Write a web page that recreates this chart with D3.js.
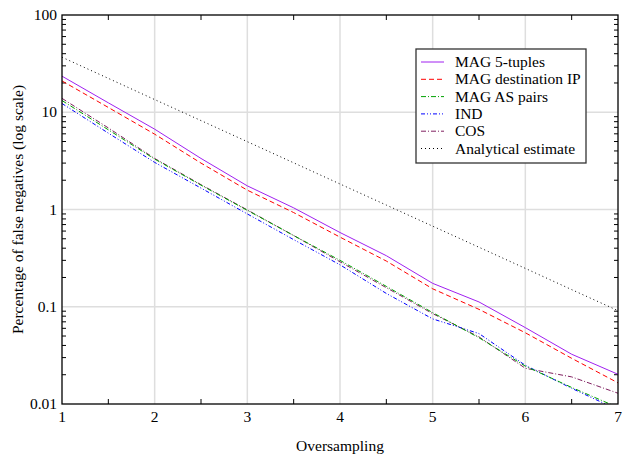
<!DOCTYPE html>
<html>
<head>
<meta charset="utf-8">
<script src="https://cdn.jsdelivr.net/npm/d3@7"></script>
<style>
  body { margin: 0; background: #fff; }
  text { font-family: "Liberation Serif", "Times New Roman", serif; fill: #000; }
</style>
</head>
<body>
<svg id="chart" width="623" height="454"></svg>
<script>
// oversampling factor (x) and percentage of false negatives per series
const oversampling = [1, 1.5, 2, 2.5, 3, 3.5, 4, 4.5, 5, 5.5, 6, 6.5, 7];
const mag5Tuples = [23.5, 12.5, 6.7, 3.35, 1.75, 1.04, 0.58, 0.335, 0.174, 0.112, 0.061, 0.0325, 0.0202];
const magDestIp = [21, 11.2, 5.95, 3.0, 1.58, 0.93, 0.52, 0.295, 0.153, 0.094, 0.054, 0.0295, 0.0165];
const magAsPairs = [13.2, 6.6, 3.3, 1.78, 0.98, 0.54, 0.30, 0.162, 0.087, 0.048, 0.0245, 0.0148, 0.0092];
const ind = [12.3, 6.1, 3.05, 1.66, 0.9, 0.49, 0.27, 0.137, 0.075, 0.053, 0.025, 0.0145, 0.0087];
const cos = [13.9, 6.9, 3.35, 1.8, 0.99, 0.54, 0.29, 0.157, 0.085, 0.049, 0.0233, 0.019, 0.0129];
const analytical = [36.8, 22.3, 13.5, 8.21, 4.98, 3.02, 1.83, 1.11, 0.674, 0.409, 0.248, 0.150, 0.0912];

const seriesNames = ["MAG 5-tuples", "MAG destination IP", "MAG AS pairs", "IND", "COS", "Analytical estimate"];
const xTicks = [1, 2, 3, 4, 5, 6, 7];
const yTicks = [0.01, 0.1, 1, 10, 100];
const yTickLabels = ["0.01", "0.1", "1", "10", "100"];

const series = [
  { name: seriesNames[0], values: mag5Tuples, color: "#a020f0", dash: null },
  { name: seriesNames[1], values: magDestIp, color: "#ff0000", dash: "5,3" },
  { name: seriesNames[2], values: magAsPairs, color: "#00a000", dash: "5,2,1,2" },
  { name: seriesNames[3], values: ind, color: "#0000ff", dash: "4,2,1,2,1,2" },
  { name: seriesNames[4], values: cos, color: "#802060", dash: "5,2,1,2" },
  { name: seriesNames[5], values: analytical, color: "#000000", dash: "1,3" }
];

const svg = d3.select("#chart");
const margin = { left: 62, right: 5, top: 15, bottom: 50 };
const width = 623, height = 454;

const x = d3.scaleLinear().domain([1, 7]).range([margin.left, width - margin.right]);
const y = d3.scaleLog().domain([0.01, 100]).range([height - margin.bottom, margin.top]);

const x0 = x.range()[0], x1 = x.range()[1];
const y0 = y.range()[0], y1 = y.range()[1];

// grid
svg.append("g")
  .selectAll("line.gx")
  .data(xTicks.slice(1, -1))
  .enter().append("line")
  .attr("x1", d => x(d)).attr("x2", d => x(d))
  .attr("y1", y1).attr("y2", y0)
  .attr("stroke", "#dedede").attr("stroke-width", 1.5);

svg.append("g")
  .selectAll("line.gy")
  .data(yTicks.slice(1, -1))
  .enter().append("line")
  .attr("x1", x0).attr("x2", x1)
  .attr("y1", d => y(d)).attr("y2", d => y(d))
  .attr("stroke", "#dedede").attr("stroke-width", 1.5);

// minor ticks (inward, on all four sides)
const minorY = [];
yTicks.slice(0, -1).forEach(t => { for (let k = 2; k <= 9; k++) minorY.push(t * k); });
const minorX = xTicks.slice(0, -1).map(t => t + 0.5);

const ticks = svg.append("g").attr("stroke", "#000").attr("stroke-width", 1);
minorY.forEach(v => {
  ticks.append("line").attr("x1", x0).attr("x2", x0 + 4).attr("y1", y(v)).attr("y2", y(v));
  ticks.append("line").attr("x1", x1 - 4).attr("x2", x1).attr("y1", y(v)).attr("y2", y(v));
});
minorX.forEach(v => {
  ticks.append("line").attr("x1", x(v)).attr("x2", x(v)).attr("y1", y0).attr("y2", y0 - 5);
  ticks.append("line").attr("x1", x(v)).attr("x2", x(v)).attr("y1", y1).attr("y2", y1 + 5);
});

// series lines, clipped to the plot area
svg.append("clipPath").attr("id", "plot-clip")
  .append("rect")
  .attr("x", x0).attr("y", y1)
  .attr("width", x1 - x0).attr("height", y0 - y1);

const line = d3.line()
  .x((d, i) => x(oversampling[i]))
  .y(d => y(d));

svg.append("g")
  .attr("clip-path", "url(#plot-clip)")
  .selectAll("path")
  .data(series.slice().reverse())
  .enter().append("path")
  .attr("d", d => line(d.values))
  .attr("fill", "none")
  .attr("stroke", d => d.color)
  .attr("stroke-width", 1)
  .attr("stroke-dasharray", d => d.dash);

// frame
svg.append("rect")
  .attr("x", x0).attr("y", y1)
  .attr("width", x1 - x0).attr("height", y0 - y1)
  .attr("fill", "none").attr("stroke", "#000").attr("stroke-width", 1.3);

// tick labels
svg.append("g")
  .selectAll("text")
  .data(xTicks)
  .enter().append("text")
  .attr("x", d => x(d))
  .attr("y", y0 + 18)
  .attr("text-anchor", "middle")
  .style("font-size", "15.5px")
  .text(d => d);

svg.append("g")
  .selectAll("text")
  .data(yTicks)
  .enter().append("text")
  .attr("x", x0 - 5)
  .attr("y", d => y(d) + 5)
  .attr("text-anchor", "end")
  .style("font-size", "15.5px")
  .text((d, i) => yTickLabels[i]);

// axis titles
svg.append("text")
  .attr("x", (x0 + x1) / 2)
  .attr("y", 451)
  .attr("text-anchor", "middle")
  .style("font-size", "15.5px")
  .text("Oversampling");

svg.append("text")
  .attr("transform", `translate(23,${(y0 + y1) / 2}) rotate(-90)`)
  .attr("text-anchor", "middle")
  .style("font-size", "15.5px")
  .text("Percentage of false negatives (log scale)");

// legend
const legend = svg.append("g").attr("transform", "translate(416,49)");
legend.append("rect")
  .attr("width", 170).attr("height", 114)
  .attr("fill", "#fff").attr("stroke", "#333").attr("stroke-width", 1.3);

const rows = legend.selectAll("g.row")
  .data(series)
  .enter().append("g")
  .attr("transform", (d, i) => `translate(0,${13 + i * 17.3})`);

rows.append("line")
  .attr("x1", 5).attr("x2", 28)
  .attr("stroke", d => d.color)
  .attr("stroke-width", 1)
  .attr("stroke-dasharray", d => d.dash);

rows.append("text")
  .attr("x", 39).attr("y", 5)
  .style("font-size", "15.5px")
  .text(d => d.name);
</script>
</body>
</html>
